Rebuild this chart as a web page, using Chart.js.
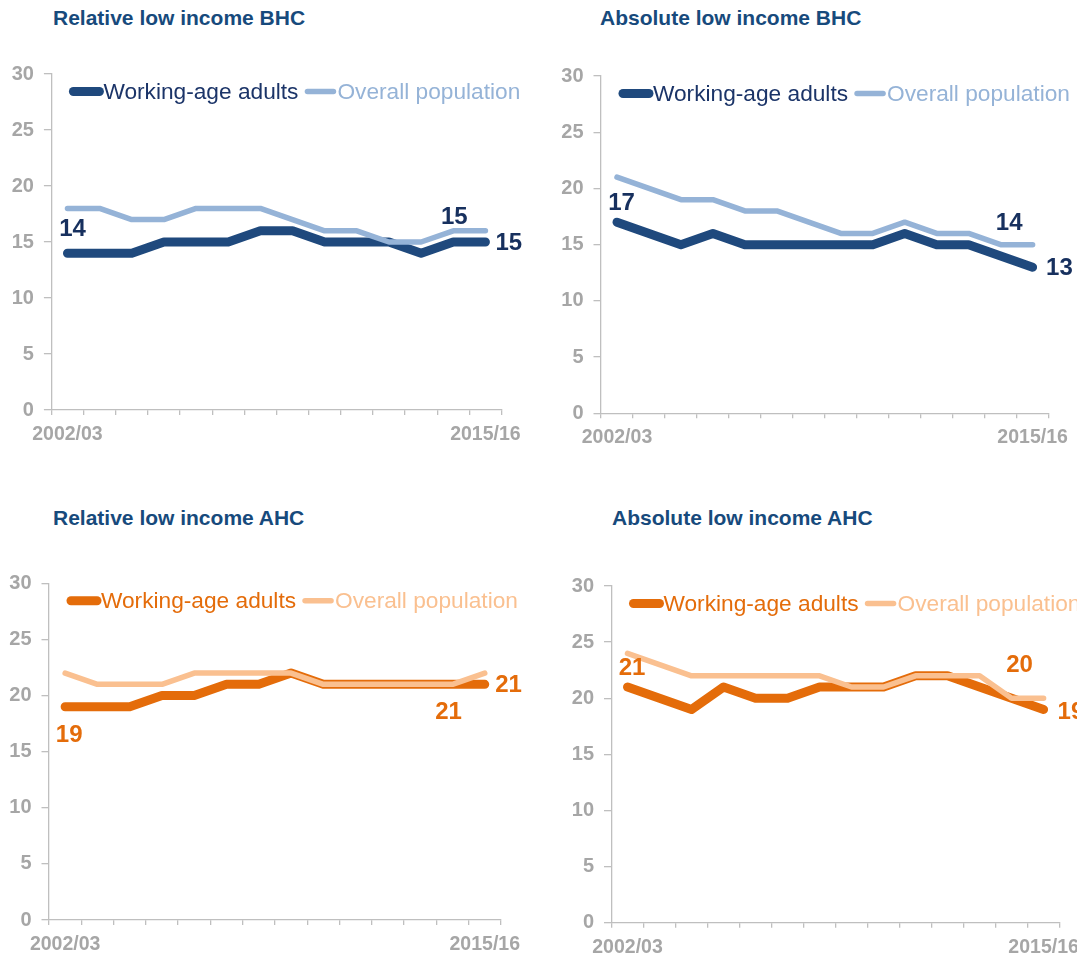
<!DOCTYPE html>
<html>
<head>
<meta charset="utf-8">
<script src="https://cdn.jsdelivr.net/npm/chart.js@4.4.0/dist/chart.umd.min.js"></script>
<style>
  body { margin: 0; background: #fff; width: 1077px; height: 953px; overflow: hidden; position: relative; }
  canvas { position: absolute; }
  .title { position: absolute; font: bold 21px "Liberation Sans", Arial, sans-serif; color: #174a7c; white-space: nowrap; }
</style>
</head>
<body>
<div class="title" style="left:53px;top:6px">Relative low income BHC</div>
<div class="title" style="left:600px;top:6px">Absolute low income BHC</div>
<div class="title" style="left:53px;top:506px">Relative low income AHC</div>
<div class="title" style="left:612px;top:506px">Absolute low income AHC</div>

<canvas id="c1" width="538" height="420" style="left:0;top:50px"></canvas>
<canvas id="c2" width="539" height="420" style="left:538px;top:50px"></canvas>
<canvas id="c3" width="538" height="398" style="left:0;top:555px"></canvas>
<canvas id="c4" width="539" height="398" style="left:538px;top:555px"></canvas>

<script>
// data
const years = ['2002/03', '2003/04', '2004/05', '2005/06', '2006/07', '2007/08', '2008/09',
               '2009/10', '2010/11', '2011/12', '2012/13', '2013/14', '2014/15', '2015/16'];
const seriesNames = ['Working-age adults', 'Overall population'];
const yTicks = [0, 5, 10, 15, 20, 25, 30];

const relBhcWorking = [14, 14, 14, 15, 15, 15, 16, 16, 15, 15, 15, 14, 15, 15];
const relBhcOverall = [18, 18, 17, 17, 18, 18, 18, 17, 16, 16, 15, 15, 16, 16];
const absBhcWorking = [17, 16, 15, 16, 15, 15, 15, 15, 15, 16, 15, 15, 14, 13];
const absBhcOverall = [21, 20, 19, 19, 18, 18, 17, 16, 16, 17, 16, 16, 15, 15];
const relAhcWorking = [19, 19, 19, 20, 20, 21, 21, 22, 21, 21, 21, 21, 21, 21];
const relAhcOverall = [22, 21, 21, 21, 22, 22, 22, 22, 21, 21, 21, 21, 21, 22];
const absAhcWorking = [21, 20, 19, 21, 20, 20, 21, 21, 21, 22, 22, 21, 20, 19];
const absAhcOverall = [24, 23, 22, 22, 22, 22, 22, 21, 21, 22, 22, 22, 20, 20];

// value tags printed on the charts
const relBhcTags = ['14', '15', '15'];
const absBhcTags = ['17', '14', '13'];
const relAhcTags = ['19', '21', '21'];
const absAhcTags = ['21', '20', '19'];

const FONT = '"Liberation Sans", Arial, sans-serif';
const GREY = '#a6a6a6';
const AXIS = '#bfbfbf';

// legend drawn inside the plot area, line samples with round caps
const lineLegend = {
    id: 'lineLegend',
    afterDraw(chart) {
        const ctx = chart.ctx;
        const area = chart.chartArea;
        const y = area.top + 17.5;
        let x = area.left + 22;
        ctx.save();
        ctx.font = '22.7px ' + FONT;
        ctx.textBaseline = 'middle';
        chart.data.datasets.forEach(ds => {
            ctx.strokeStyle = ds.borderColor;
            ctx.lineWidth = ds.borderWidth;
            ctx.lineCap = 'round';
            ctx.beginPath();
            ctx.moveTo(x, y);
            ctx.lineTo(x + 26, y);
            ctx.stroke();
            ctx.fillStyle = ds.legendColor;
            ctx.textAlign = 'left';
            ctx.fillText(ds.label, x + 30, y + 1);
            x += 30 + ctx.measureText(ds.label).width + 9;
        });
        ctx.restore();
    }
};

// first and last category labels
const endLabels = {
    id: 'endLabels',
    afterDraw(chart) {
        const ctx = chart.ctx;
        const xs = chart.scales.x;
        const y = chart.chartArea.bottom + 30;
        const n = chart.data.labels.length;
        ctx.save();
        ctx.font = 'bold 19.5px ' + FONT;
        ctx.fillStyle = GREY;
        ctx.textBaseline = 'alphabetic';
        ctx.textAlign = 'center';
        ctx.fillText(chart.data.labels[0], xs.getPixelForValue(0), y);
        ctx.fillText(chart.data.labels[n - 1], xs.getPixelForValue(n - 1), y);
        ctx.restore();
    }
};

// bold value tags next to chosen points
const valueTags = {
    id: 'valueTags',
    afterDraw(chart, args, opts) {
        const ctx = chart.ctx;
        ctx.save();
        ctx.font = 'bold 24px ' + FONT;
        ctx.textBaseline = 'middle';
        opts.items.forEach((it, k) => {
            const pt = chart.getDatasetMeta(it.ds).data[it.i];
            ctx.fillStyle = opts.color;
            ctx.textAlign = it.align || 'center';
            ctx.fillText(opts.texts[k], pt.x + it.dx, pt.y + it.dy);
        });
        ctx.restore();
    }
};

function makePanel(id, working, overall, colors, tags, tagItems, layout) {
    new Chart(document.getElementById(id), {
        type: 'line',
        data: {
            labels: years,
            datasets: [{
                label: seriesNames[0],
                data: working,
                borderColor: colors.dark,
                legendColor: colors.darkText,
                borderWidth: 9,
                order: 1
            }, {
                label: seriesNames[1],
                data: overall,
                borderColor: colors.light,
                legendColor: colors.light,
                borderWidth: 5.5,
                order: 0
            }]
        },
        options: {
            responsive: false,
            animation: false,
            events: [],
            layout: { padding: layout.padding },
            elements: {
                point: { radius: 0 },
                line: { tension: 0, borderJoinStyle: 'round', borderCapStyle: 'round', fill: false }
            },
            scales: {
                x: {
                    type: 'category',
                    offset: true,
                    grid: { offset: true, drawOnChartArea: false, drawTicks: true, tickLength: 5, color: AXIS, lineWidth: 1.3 },
                    border: { color: AXIS, width: 1.3 },
                    ticks: { display: false },
                    afterFit: s => { s.height = layout.xHeight; }
                },
                y: {
                    min: 0,
                    max: 30,
                    afterBuildTicks: s => { s.ticks = yTicks.map(v => ({ value: v })); },
                    grid: { drawOnChartArea: false, drawTicks: true, tickLength: 7.5, color: AXIS, lineWidth: 1.3 },
                    border: { color: AXIS, width: 1.3 },
                    ticks: { color: GREY, padding: 10, font: { family: FONT, size: 20, weight: 'bold' } },
                    afterFit: s => { s.width = layout.yWidth; }
                }
            },
            plugins: {
                legend: { display: false },
                tooltip: { enabled: false },
                valueTags: { items: tagItems, texts: tags, color: colors.tag }
            }
        },
        plugins: [lineLegend, endLabels, valueTags]
    });
}

const blues = { dark: '#1f497d', darkText: '#1b3468', light: '#95b3d7', tag: '#17305e' };
const oranges = { dark: '#e46c0a', darkText: '#e46c0a', light: '#fac090', tag: '#e46c0a' };

makePanel('c1', relBhcWorking, relBhcOverall, blues, relBhcTags, [
    { ds: 0, i: 0, dx: 5, dy: -24 },
    { ds: 1, i: 12, dx: 1, dy: -13.5 },
    { ds: 0, i: 13, dx: 10, dy: 1, align: 'left' }
], { padding: { top: 24, right: 36.5, bottom: 20, left: 0 }, yWidth: 51.4, xHeight: 40 });

makePanel('c2', absBhcWorking, absBhcOverall, blues, absBhcTags, [
    { ds: 0, i: 0, dx: 4.5, dy: -19 },
    { ds: 1, i: 12, dx: 8.5, dy: -21.5 },
    { ds: 0, i: 13, dx: 13.5, dy: 1, align: 'left' }
], { padding: { top: 26, right: 28.4, bottom: 16.7, left: 0 }, yWidth: 63, xHeight: 40 });

makePanel('c3', relAhcWorking, relAhcOverall, oranges, relAhcTags, [
    { ds: 0, i: 0, dx: 4, dy: 29 },
    { ds: 1, i: 12, dx: -4, dy: 28 },
    { ds: 0, i: 13, dx: 10.5, dy: 1, align: 'left' }
], { padding: { top: 28.3, right: 37.1, bottom: 0, left: 0 }, yWidth: 49, xHeight: 33 });

makePanel('c4', absAhcWorking, absAhcOverall, oranges, absAhcTags, [
    { ds: 0, i: 0, dx: 4.5, dy: -19 },
    { ds: 1, i: 12, dx: 8, dy: -33 },
    { ds: 0, i: 13, dx: 14, dy: 3, align: 'left' }
], { padding: { top: 31, right: 17.4, bottom: 0, left: 0 }, yWidth: 73.5, xHeight: 30.3 });
</script>
</body>
</html>
